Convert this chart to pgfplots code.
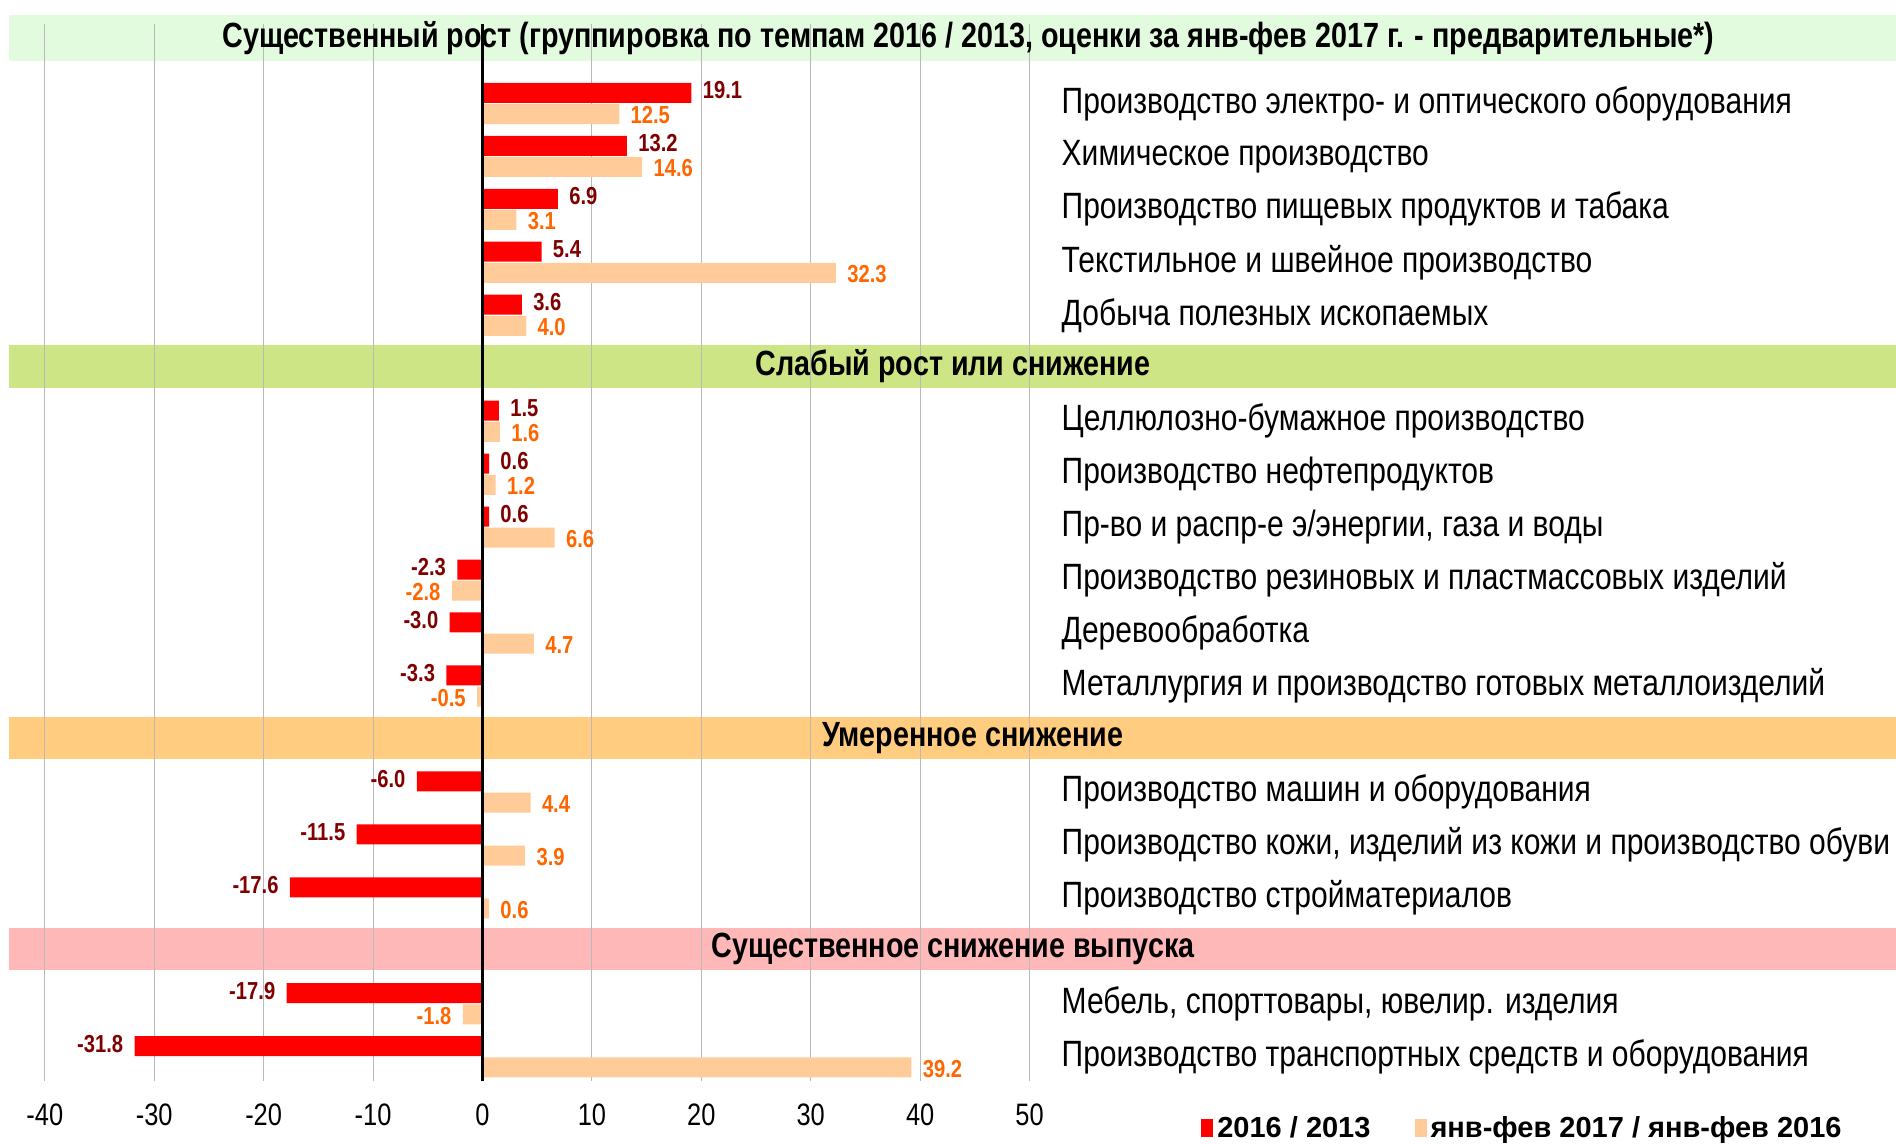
\documentclass[border=0pt]{standalone}
\usepackage{fontspec}
\setmainfont{Liberation Sans}[FakeStretch=0.82]
\newfontfamily\widesans{Liberation Sans}
\usepackage{pgfplots}
\usepackage{pgfplotstable}
\pgfplotsset{compat=1.18}

\definecolor{serA}{HTML}{FF0000}
\definecolor{serB}{HTML}{FFCC99}
\definecolor{labA}{HTML}{800000}
\definecolor{labB}{HTML}{FF6600}
\definecolor{bandA}{HTML}{E2FBDF}
\definecolor{bandB}{HTML}{CDE585}
\definecolor{bandC}{HTML}{FFCC80}
\definecolor{bandD}{HTML}{FFB8B8}

% 2016 / 2013
\pgfplotstableread{
y x
-0.8 19.1
-1.8 13.2
-2.8 6.9
-3.8 5.4
-4.8 3.6
-6.8 1.5
-7.8 0.6
-8.8 0.6
-9.8 -2.3
-10.8 -3.0
-11.8 -3.3
-13.8 -6.0
-14.8 -11.5
-15.8 -17.6
-17.8 -17.9
-18.8 -31.8
}\tabA
% jan-feb 2017 / jan-feb 2016
\pgfplotstableread{
y x
-1.2 12.5
-2.2 14.6
-3.2 3.1
-4.2 32.3
-5.2 4.0
-7.2 1.6
-8.2 1.2
-9.2 6.6
-10.2 -2.8
-11.2 4.7
-12.2 -0.5
-14.2 4.4
-15.2 3.9
-16.2 0.6
-18.2 -1.8
-19.2 39.2
}\tabB

\newcommand{\catfont}{\fontsize{18.3}{18.3}\selectfont}
\newcommand{\bandfont}{\bfseries\fontsize{17.5}{17.5}\selectfont}

\begin{document}
\begin{tikzpicture}
\begin{axis}[
    set layers,
    scale only axis,
    width=492.4pt, height=528.3pt,
    xmin=-40, xmax=50,
    ymin=-19.45, ymax=0.5,
    clip=false,
    xbar, bar width=10pt, bar shift=0pt,
    axis line style={draw=none},
    major tick length=0pt,
    ytick=\empty,
    xtick={-40,-30,...,50},
    xmajorgrids,
    grid style={gray!55, line width=0.5pt},
    /pgf/number format/assume math mode=true,
    xticklabel style={font=\fontsize{15.5}{15.5}\selectfont, anchor=center, yshift=-17pt},
    point meta=x,
    nodes near coords={\pgfmathprintnumber[fixed,fixed zerofill,precision=1,assume math mode=true]{\pgfplotspointmeta}},
    nodes near coords align={horizontal},
    every node near coord/.append style={font=\bfseries\fontsize{12.3}{12.3}\selectfont, inner xsep=5.5pt, inner ysep=0pt},
    legend style={at={(1.174,-0.045)}, anchor=west, draw=none, fill=none,
        inner sep=0pt, font=\widesans\bfseries\fontsize{14.5}{14.5}\selectfont,
        /tikz/every even column/.append style={column sep=20pt}},
    legend columns=2,
]
\begin{pgfonlayer}{axis background}
\fill[bandA] (axis cs:-43.3,0.667) rectangle (axis cs:129.2,-0.2);
\fill[bandB] (axis cs:-43.3,-5.566) rectangle (axis cs:129.2,-6.365);
\fill[bandC] (axis cs:-43.3,-12.58) rectangle (axis cs:129.2,-13.37);
\fill[bandD] (axis cs:-43.3,-16.57) rectangle (axis cs:129.2,-17.37);
\end{pgfonlayer}

\addplot[fill=serA, draw=none,
    every node near coord/.append style={text=labA, yshift=1.2pt},
    legend image code/.code={\fill[serA] (0pt,-4.5pt) rectangle (6pt,4.5pt);}]
    table[x=x, y=y] {\tabA};
\addlegendentry{2016 / 2013}
\addplot[fill=serB, draw=none,
    every node near coord/.append style={text=labB, yshift=-0.6pt},
    legend image code/.code={\fill[serB] (0pt,-4.5pt) rectangle (6pt,4.5pt);}]
    table[x=x, y=y] {\tabB};
\addlegendentry{янв-фев 2017 / янв-фев 2016}

\draw[black, line width=1.3pt] (axis cs:0,0.5) -- (axis cs:0,-19.45);

\node[font=\bandfont] at (axis cs:44.4,0.233) {Существенный рост (группировка по темпам 2016 / 2013, оценки за янв-фев 2017 г. - предварительные*)};
\node[font=\bandfont] at (axis cs:43.0,-5.966) {Слабый рост или снижение};
\node[font=\bandfont] at (axis cs:44.8,-12.975) {Умеренное снижение};
\node[font=\bandfont] at (axis cs:43.0,-16.97) {Существенное снижение выпуска};

\begin{scope}[every node/.style={anchor=west, inner sep=0pt, font=\catfont}]
\node at (axis cs:52.9,-1) {Производство электро- и оптического оборудования};
\node at (axis cs:52.9,-2) {Химическое производство};
\node at (axis cs:52.9,-3) {Производство пищевых продуктов и табака};
\node at (axis cs:52.9,-4) {Текстильное и швейное производство};
\node at (axis cs:52.9,-5) {Добыча полезных ископаемых};
\node at (axis cs:52.9,-7) {Целлюлозно-бумажное производство};
\node at (axis cs:52.9,-8) {Производство нефтепродуктов};
\node at (axis cs:52.9,-9) {Пр-во и распр-е э/энергии, газа и воды};
\node at (axis cs:52.9,-10) {Производство резиновых и пластмассовых изделий};
\node at (axis cs:52.9,-11) {Деревообработка};
\node at (axis cs:52.9,-12) {Металлургия и производство готовых металлоизделий};
\node at (axis cs:52.9,-14) {Производство машин и оборудования};
\node at (axis cs:52.9,-15) {Производство кожи, изделий из кожи и производство обуви};
\node at (axis cs:52.9,-16) {Производство стройматериалов};
\node at (axis cs:52.9,-18) {Мебель, спорттовары, ювелир. изделия};
\node at (axis cs:52.9,-19) {Производство транспортных средств и оборудования};
\end{scope}
\end{axis}
\pgfresetboundingbox
\path (-22.4pt,-32pt) rectangle (925.6pt,540.3pt);
\end{tikzpicture}
\end{document}
